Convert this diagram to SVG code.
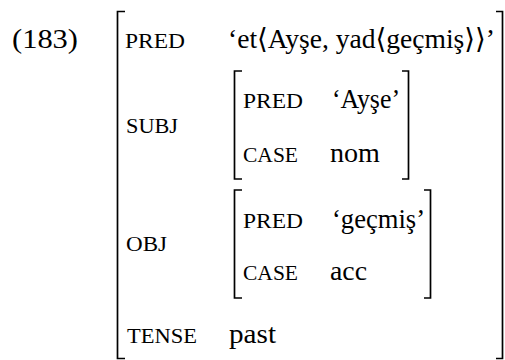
<svg xmlns="http://www.w3.org/2000/svg" width="505" height="360" viewBox="0 0 505 360">
<style>
text{font-family:"Liberation Serif","Times New Roman","DejaVu Serif",serif;fill:#000}
.t{font-size:28px}
.sc{font-size:20px}
.br{fill:none;stroke:#000;stroke-width:1.7}
</style>
<rect width="505" height="360" fill="#fff"/>
<text class="t" x="12" y="48" textLength="66" lengthAdjust="spacingAndGlyphs">(183)</text>
<g id="outer">
<path class="br" d="M125,11.5 H117.5 V358.5 H125"/>
<path class="br" d="M496,11.5 H502.5 V358.5 H496"/>
<text class="sc" x="125" y="48" textLength="60" lengthAdjust="spacingAndGlyphs">PRED</text>
<text class="t" x="228" y="48" textLength="267" lengthAdjust="spacingAndGlyphs">‘et⟨Ayşe, yad⟨geçmiş⟩⟩’</text>
<text class="sc" x="126" y="133" textLength="52" lengthAdjust="spacingAndGlyphs">SUBJ</text>
<text class="sc" x="126" y="251" textLength="41" lengthAdjust="spacingAndGlyphs">OBJ</text>
<text class="sc" x="127" y="343" textLength="70" lengthAdjust="spacingAndGlyphs">TENSE</text>
<text class="t" x="229" y="343" textLength="47" lengthAdjust="spacingAndGlyphs">past</text>
</g>
<g id="subj">
<path class="br" d="M242,71 H234.5 V179 H242"/>
<path class="br" d="M402,71 H408.5 V179 H402"/>
<text class="sc" x="243" y="108" textLength="60" lengthAdjust="spacingAndGlyphs">PRED</text>
<text class="t" x="332" y="108" textLength="68" lengthAdjust="spacingAndGlyphs">‘Ayşe’</text>
<text class="sc" x="243" y="162" textLength="55" lengthAdjust="spacingAndGlyphs">CASE</text>
<text class="t" x="330" y="162" textLength="50" lengthAdjust="spacingAndGlyphs">nom</text>
</g>
<g id="obj">
<path class="br" d="M242,190 H234.5 V298 H242"/>
<path class="br" d="M424,190 H430.5 V298 H424"/>
<text class="sc" x="243" y="228" textLength="60" lengthAdjust="spacingAndGlyphs">PRED</text>
<text class="t" x="332" y="228" textLength="93" lengthAdjust="spacingAndGlyphs">‘geçmiş’</text>
<text class="sc" x="243" y="280" textLength="55" lengthAdjust="spacingAndGlyphs">CASE</text>
<text class="t" x="330" y="280" textLength="37" lengthAdjust="spacingAndGlyphs">acc</text>
</g>
<g id="connectors"></g>
</svg>
